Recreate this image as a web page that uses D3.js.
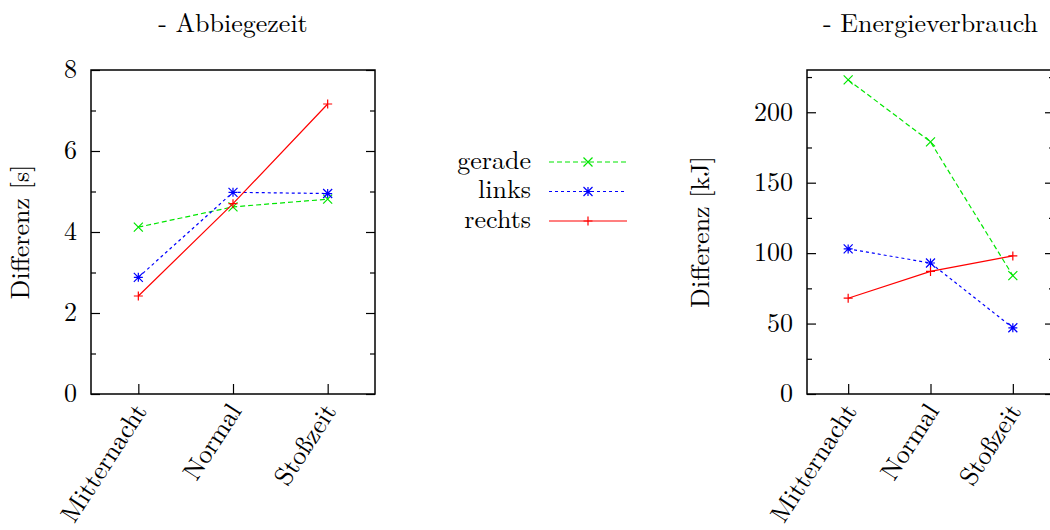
<!DOCTYPE html>
<html>
<head>
<meta charset="utf-8">
<script src="https://cdn.jsdelivr.net/npm/d3@7"></script>
<style>
  body { margin: 0; background: #fff; }
</style>
</head>
<body>
<div id="chart"></div>
<script>
// Differenz je Tageszeit: Abbiegezeit (links) und Energieverbrauch (rechts)

var categories = ["Mitternacht", "Normal", "Stoßzeit"];
var seriesNames = ["gerade", "links", "rechts"];

var zeitGerade = [4.12, 4.62, 4.81];
var zeitLinks = [2.88, 4.98, 4.95];
var zeitRechts = [2.42, 4.70, 7.16];
var zeitTicks = [0, 2, 4, 6, 8];
var zeitMinor = [1, 3, 5, 7];

var energieGerade = [223, 179, 84];
var energieLinks = [103, 93, 47];
var energieRechts = [68, 87, 98];
var energieTicks = [0, 50, 100, 150, 200];
var energieMinor = [25, 75, 125, 175, 225];

var svgWidth = 1050;
var svgHeight = 530;
var FONT = '"Latin Modern Roman", "CMU Serif", "Liberation Serif", serif';

var svg = d3.select("#chart")
  .append("svg")
  .attr("width", svgWidth)
  .attr("height", svgHeight);

// line / marker styles per series
var styles = {
  gerade: { color: "#00e600", dash: "5,3", marker: "x" },
  links: { color: "#0000ff", dash: "3,3", marker: "star" },
  rechts: { color: "#ff0000", dash: null, marker: "plus" }
};

function setFont(sel) {
  return sel.style("font-family", FONT).style("font-size", "26px").attr("fill", "#000");
}

function markerPath(kind, s) {
  var p = d3.path();
  if (kind === "plus" || kind === "star") {
    p.moveTo(-s, 0); p.lineTo(s, 0);
    p.moveTo(0, -s); p.lineTo(0, s);
  }
  if (kind === "x" || kind === "star") {
    p.moveTo(-s, -s); p.lineTo(s, s);
    p.moveTo(-s, s); p.lineTo(s, -s);
  }
  return p.toString();
}

function drawPanel(opt) {
  var g = svg.append("g");

  var x = d3.scalePoint()
    .domain(categories)
    .range([opt.left, opt.right])
    .padding(0.5);

  var y = d3.scaleLinear()
    .domain(opt.domain)
    .range([opt.bottom, opt.top]);

  // minor ticks
  g.append("g")
    .attr("transform", `translate(${opt.left},0)`)
    .call(d3.axisLeft(y).tickValues(opt.minor).tickSize(-5).tickFormat(""))
    .call(a => a.select(".domain").remove());
  g.append("g")
    .attr("transform", `translate(${opt.right},0)`)
    .call(d3.axisRight(y).tickValues(opt.minor).tickSize(-5).tickFormat(""))
    .call(a => a.select(".domain").remove());

  // major ticks
  g.append("g")
    .attr("transform", `translate(${opt.left},0)`)
    .call(d3.axisLeft(y).tickValues(opt.ticks).tickSize(-9).tickPadding(14))
    .call(a => a.select(".domain").remove())
    .attr("font-family", null).attr("font-size", null)
    .call(a => setFont(a.selectAll("text")).attr("dy", "0.3em"));
  g.append("g")
    .attr("transform", `translate(${opt.right},0)`)
    .call(d3.axisRight(y).tickValues(opt.ticks).tickSize(-9).tickFormat(""))
    .call(a => a.select(".domain").remove());

  // category axis
  g.append("g")
    .attr("transform", `translate(0,${opt.bottom})`)
    .call(d3.axisBottom(x).tickSize(-10).tickPadding(0))
    .call(a => a.select(".domain").remove())
    .attr("font-family", null).attr("font-size", null)
    .call(a => setFont(a.selectAll("text"))
      .attr("text-anchor", "end")
      .attr("dy", null)
      .attr("y", 0)
      .attr("transform", "translate(9,17) rotate(-57)"));

  g.selectAll(".tick line").attr("stroke", "#000").attr("stroke-width", 1.2);

  // frame
  g.append("rect")
    .attr("x", opt.left)
    .attr("y", opt.top)
    .attr("width", opt.right - opt.left)
    .attr("height", opt.bottom - opt.top)
    .attr("fill", "none")
    .attr("stroke", "#000")
    .attr("stroke-width", 1.5);

  // title
  setFont(g.append("text"))
    .attr("x", (opt.left + opt.right) / 2)
    .attr("y", 32)
    .attr("text-anchor", "middle")
    .text(opt.title);

  // y label
  setFont(g.append("text"))
    .attr("transform", `translate(${opt.labelX},${(opt.top + opt.bottom) / 2}) rotate(-90)`)
    .attr("text-anchor", "middle")
    .attr("dy", "0.32em")
    .text(opt.yLabel);

  var line = d3.line()
    .x((d, i) => x(categories[i]))
    .y(d => y(d));

  opt.series.forEach(function (vals, k) {
    var st = styles[seriesNames[k]];
    g.append("path")
      .datum(vals)
      .attr("d", line)
      .attr("fill", "none")
      .attr("stroke", st.color)
      .attr("stroke-width", 1.2)
      .attr("stroke-dasharray", st.dash);

    g.selectAll(null)
      .data(vals)
      .enter()
      .append("path")
      .attr("transform", (d, i) => `translate(${x(categories[i])},${y(d)})`)
      .attr("d", markerPath(st.marker, 4.5))
      .attr("fill", "none")
      .attr("stroke", st.color)
      .attr("stroke-width", 1.2);
  });
}

drawPanel({
  left: 91, right: 375, top: 70, bottom: 394,
  domain: [0, 8], ticks: zeitTicks, minor: zeitMinor,
  title: "- Abbiegezeit", yLabel: "Differenz [s]", labelX: 21,
  series: [zeitGerade, zeitLinks, zeitRechts]
});

drawPanel({
  left: 807, right: 1054, top: 70, bottom: 394,
  domain: [0, 230], ticks: energieTicks, minor: energieMinor,
  title: "- Energieverbrauch", yLabel: "Differenz [kJ]", labelX: 701,
  series: [energieGerade, energieLinks, energieRechts]
});

// legend
var legendY = d3.scalePoint().domain(seriesNames).range([162, 221]);
var legend = svg.append("g");
seriesNames.forEach(function (name) {
  var st = styles[name];
  var yy = legendY(name);
  setFont(legend.append("text"))
    .attr("x", 531)
    .attr("y", yy)
    .attr("dy", "0.25em")
    .attr("text-anchor", "end")
    .text(name);
  legend.append("line")
    .attr("x1", 549).attr("x2", 627)
    .attr("y1", yy).attr("y2", yy)
    .attr("stroke", st.color)
    .attr("stroke-width", 1.2)
    .attr("stroke-dasharray", st.dash);
  legend.append("path")
    .attr("transform", `translate(588,${yy})`)
    .attr("d", markerPath(st.marker, 4.5))
    .attr("fill", "none")
    .attr("stroke", st.color)
    .attr("stroke-width", 1.2);
});
</script>
</body>
</html>
